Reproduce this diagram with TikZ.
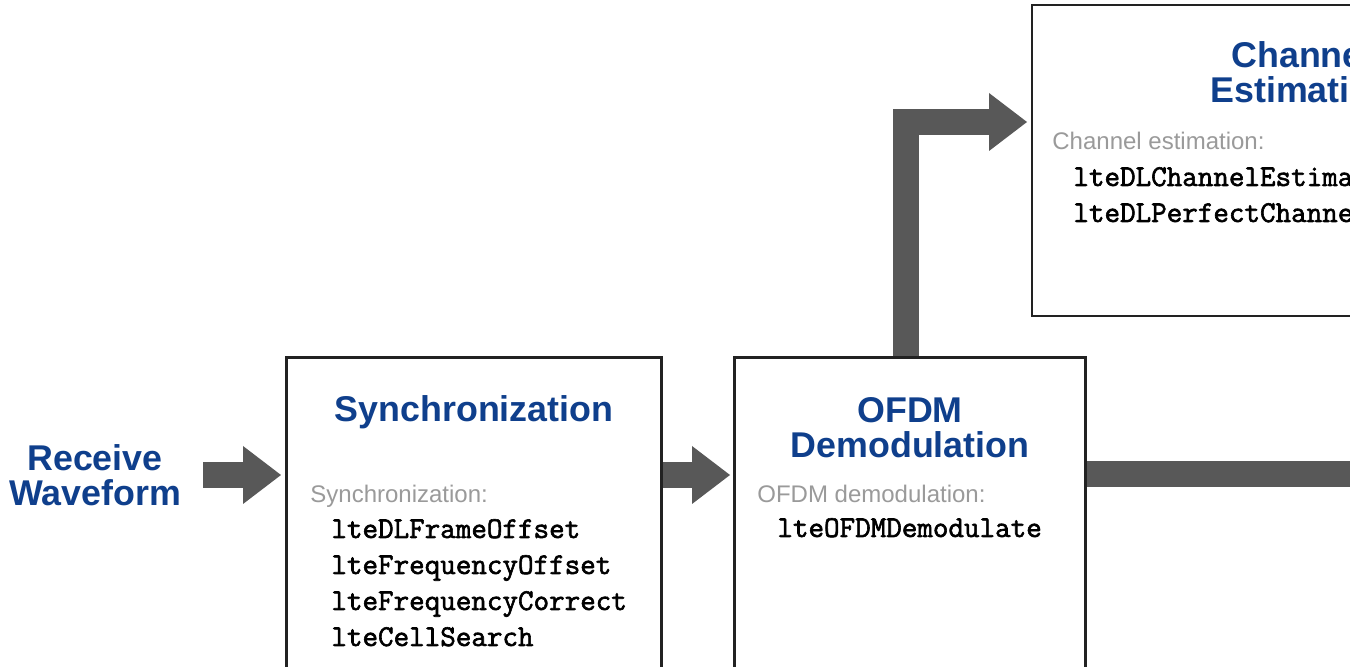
\documentclass[tikz,border=0pt]{standalone}
\usepackage{fontspec}
\setmainfont{Liberation Sans}
\newfontfamily\codefont{Latin Modern Mono}[FakeBold=2]
\usetikzlibrary{arrows.meta}
\definecolor{tblue}{HTML}{0F3F8C}
\definecolor{tgray}{HTML}{9A9A9A}
\definecolor{agray}{HTML}{585858}
\definecolor{bline}{HTML}{222222}
\begin{document}
\begin{tikzpicture}[x=0.5pt,y=-0.5pt,
  title/.style={font=\bfseries\fontsize{17.9}{17.5}\selectfont, text=tblue, align=center, inner sep=0pt},
  note/.style={font=\fontsize{12}{14}\selectfont, text=tgray, anchor=base west, inner sep=0pt},
  code/.style={font=\codefont\fontsize{15.1}{18}\selectfont, anchor=base west, inner sep=0pt},
  blockbox/.style={draw=bline, line width=1pt, fill=white, rectangle, inner sep=0pt},
  shaft/.style={draw=agray, line width=13pt, line join=miter},
  flow/.style={shaft, -{Triangle[length=19pt,width=29pt,line width=0pt]}}]
\useasboundingbox (0,0) rectangle (1350,667);
\clip (0,0) rectangle (1350,667);
\fill[white] (0,0) rectangle (1350,667);

% boxes
\path (474,559) node[blockbox, minimum width=187pt, minimum height=201pt] (sync) {};
\path (910,559) node[blockbox, minimum width=175pt, minimum height=201pt] (ofdm) {};
\path (1302,160.5) node[blockbox, minimum width=270pt, minimum height=155.5pt] (chan) {};

\node[title] (recv) at (95,475) {Receive\\Waveform};
\coordinate (offright) at (1350,474.5);

% connectors
\draw[flow, shorten >=2.5pt] ([xshift=11pt]recv.east) -- (recv.east -| sync.west);
\draw[flow, shorten >=2pt] (sync.east |- recv.east) -- (ofdm.west |- recv.east);
\draw[flow, shorten >=2pt] ([xshift=-2pt]ofdm.north) |- ([yshift=19.25pt]chan.west);
\draw[shaft] (ofdm.east |- offright) -- (offright);

% box borders on top
\draw[bline, line width=1pt] (sync.north west) rectangle (sync.south east);
\draw[bline, line width=1pt] (ofdm.north west) rectangle (ofdm.south east);

% titles
\node[title, anchor=base] (synct) at (474,422) {Synchronization};
\node[title] (ofdmt) at (910,427.5) {OFDM\\Demodulation};
\node[title] (chant) at (1302,72.5) {Channel\\Estimation};

% notes
\node[note] (syncn) at (310,503) {Synchronization:};
\node[note] (ofdmn) at (757,503) {OFDM demodulation:};
\node[note] (chann) at (1052,150) {Channel estimation:};

% function names
\node[code] (s1) at (331,538) {lteDLFrameOffset};
\node[code] (s2) at (331,574) {lteFrequencyOffset};
\node[code] (s3) at (331,610) {lteFrequencyCorrect};
\node[code] (s4) at (331,646) {lteCellSearch};
\node[code] (o1) at (777,537) {lteOFDMDemodulate};
\node[code] (c1) at (1073,186) {lteDLChannelEstimate};
\node[code] (c2) at (1073,222) {lteDLPerfectChannelEstimate};
\end{tikzpicture}
\end{document}
